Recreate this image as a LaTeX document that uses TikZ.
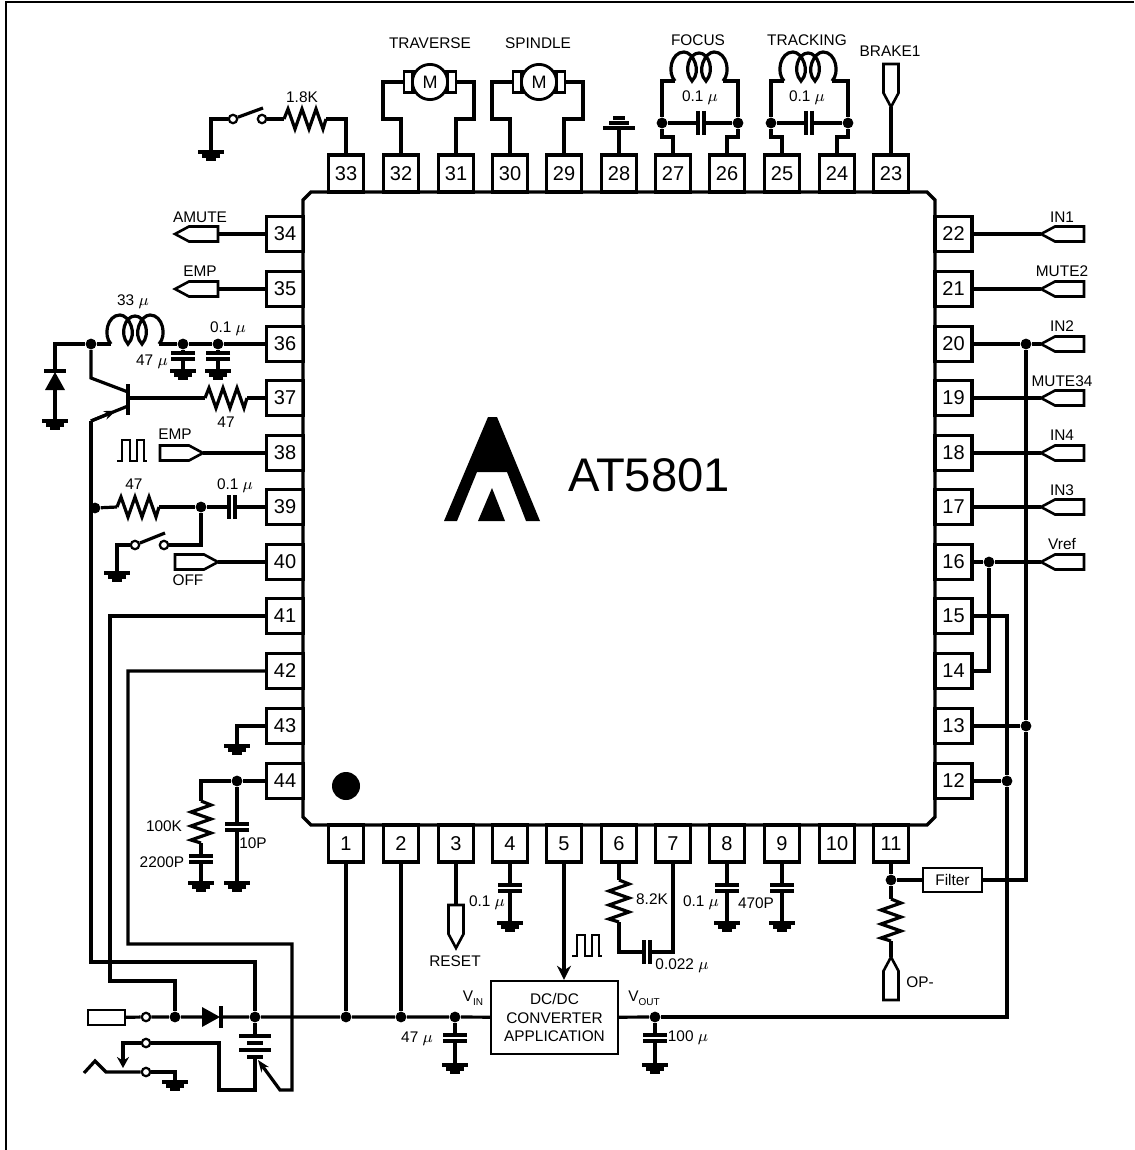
\documentclass[tikz,border=0pt]{standalone}
\usepackage{fontspec}
\setmainfont{Liberation Sans}
\usetikzlibrary{arrows.meta}

\tikzset{
  wire/.style={line width=1.6pt},
  lbl/.style={font=\fontsize{7.7}{9}\selectfont, inner sep=0pt},
  pinh/.style={draw, line width=1.6pt, minimum width=18.5pt, minimum height=17.5pt, inner sep=0pt, font=\fontsize{10}{12}\selectfont},
  pinv/.style={draw, line width=1.6pt, minimum width=17.5pt, minimum height=18.5pt, inner sep=0pt, font=\fontsize{10}{12}\selectfont},
  dot/.style={circle, fill=black, inner sep=0pt, minimum size=5.4pt},
  term/.style={circle, draw, fill=white, line width=1.1pt, inner sep=0pt, minimum size=4.2pt},
  gnd/.pic={
    \coordinate (-a) at (0,0);
    \draw[line width=1.7pt] (-13,0) -- (13,0) (-9,4) -- (9,4) (-5,7.5) -- (5,7.5);
  },
  gndup/.pic={
    \coordinate (-a) at (0,0);
    \draw[line width=1.6pt] (-16,0) -- (16,0) (-10,-5) -- (10,-5) (-6,-10) -- (6,-10);
  },
  res/.pic={
    \coordinate (-a) at (-21,0);
    \coordinate (-b) at (21,0);
    \draw[wire, line join=miter] (-21,0) -- (-17,-10) -- (-10,10) -- (-3,-10) -- (4,10) -- (11,-10) -- (18,10) -- (21,0);
  },
  cap/.pic={
    \coordinate (-a) at (-3,0);
    \coordinate (-b) at (3,0);
    \draw[wire] (-3,-12) -- (-3,12) (3,-12) -- (3,12);
  },
  coil/.pic={
    \coordinate (-a) at (-24,0);
    \coordinate (-b) at (24,0);
    \draw[wire] (-24,0) .. controls (-32,-8) and (-28,-29) .. (-15,-29) .. controls (-6,-29) and (3,-10) .. (-7,0) .. controls (-16,-10) and (-10,-28) .. (0,-28) .. controls (10,-28) and (16,-10) .. (7,0) .. controls (-3,-10) and (6,-29) .. (15,-29) .. controls (28,-29) and (32,-8) .. (24,0);
  },
  tag/.pic={
    \coordinate (-a) at (0,0);
    \coordinate (-b) at (43,0);
    \draw[line width=1.3pt] (0,0) -- (14,-7.5) -- (43,-7.5) -- (43,7.5) -- (14,7.5) -- cycle;
  },
  motor/.pic={
    \coordinate (-a) at (-26,0);
    \coordinate (-b) at (26,0);
    \draw[line width=1.4pt] (-26,-10.5) rectangle (-12,10.5) (12,-10.5) rectangle (26,10.5);
    \draw[line width=1.2pt] (-18,-10.5) -- (-18,10.5) (18,-10.5) -- (18,10.5);
    \draw[line width=1.4pt, fill=white] (0,0) circle (8.8pt);
    \node[font=\fontsize{9}{11}\selectfont, inner sep=0pt] {M};
  },
  pulse/.pic={
    \draw[line width=1pt] (0,0) -- (5,0) -- (5,-21) -- (13,-21) -- (13,0) -- (20,0) -- (20,-21) -- (27,-21) -- (27,0) -- (30,0);
  },
  diode/.pic={
    \coordinate (-a) at (-9,0);
    \coordinate (-b) at (9,0);
    \fill (-9,-10) -- (-9,10) -- (9,0) -- cycle;
    \draw[wire] (10,-11) -- (10,11);
  }
}

\begin{document}
\begin{tikzpicture}[x=0.5pt, y=-0.5pt]
\useasboundingbox (0,0) rectangle (1134,1150);
% El marco solo tiene dos lados
\draw[line width=1.2pt] (6,1150) -- (6,2) -- (1134,2);

% El chip y su logo
\draw[line width=1.7pt] (311,192) -- (927,192) -- (935,200) -- (935,817) -- (927,825) -- (311,825) -- (303,817) -- (303,200) -- cycle;
\fill (444,521) -- (488,417) -- (497,417) -- (540,521) -- (526,521) -- (507,472) -- (477,472) -- (457,521) -- cycle;
\fill (492,488) -- (505,521) -- (478,521) -- cycle;
\node[font=\fontsize{23.6}{28}\selectfont, inner sep=0pt] (chipname) at (649,475) {AT5801};
\fill (346,786) circle (7pt);

% Las patas
\foreach \n/\x in {33/346,32/401,31/456,30/510,29/564,28/619,27/673,26/727,25/782,24/837,23/891}
  \node[pinv] (p\n) at (\x,173.5) {\n};
\foreach \n/\x in {1/346,2/401,3/456,4/510,5/564,6/619,7/673,8/727,9/782,10/837,11/891}
  \node[pinv] (p\n) at (\x,843.5) {\n};
\foreach \n/\y in {34/234,35/289,36/344,37/398,38/453,39/507,40/562,41/616,42/671,43/726,44/781}
  \node[pinh] (p\n) at (285,\y) {\n};
\foreach \n/\y in {22/234,21/289,20/344,19/398,18/453,17/507,16/562,15/616,14/671,13/726,12/781}
  \node[pinh] (p\n) at (953.5,\y) {\n};

% Arriba: interruptor y motores
\pic (g33) at (211,152) {gnd};
\node[term] (s33a) at (233,119) {};
\node[term] (s33b) at (262,119) {};
\pic (r33) at (305,119) {res};
\node[lbl] (l33) at (302,97) {1.8K};
\draw[wire] (g33-a) |- (s33a);
\draw[wire] (s33a) -- (263,108);
\draw[wire] (s33b) -- (r33-a);
\draw[wire] (r33-b) -| (p33);
\pic (mt) at (430,82) {motor};
\pic (ms) at (539,82) {motor};
\node[lbl] (lmt) at (430,43) {TRAVERSE};
\node[lbl] (lms) at (538,43) {SPINDLE};
\draw[wire] (mt-a) -- (383,82) -- (383,119) -| (p32);
\draw[wire] (mt-b) -- (474,82) -- (474,119) -| (p31);
\draw[wire] (ms-a) -- (492,82) -- (492,119) -| (p30);
\draw[wire] (ms-b) -- (583,82) -- (583,119) -| (p29);
\pic (g28) at (619,128) {gndup};
\draw[wire] (p28) -- (g28-a);

% Bobinas
\pic (cf) at (699,81) {coil};
\pic (ct) at (808,81) {coil};
\node[lbl] (lcf) at (698,40) {FOCUS};
\node[lbl] (lct) at (807,40) {TRACKING};
\node[dot] (dfa) at (662,123) {};
\node[dot] (dfb) at (738,123) {};
\node[dot] (dta) at (771,123) {};
\node[dot] (dtb) at (848,123) {};
\pic (kf) at (701,123) {cap};
\pic (kt) at (809,123) {cap};
\node[lbl] (lkf) at (700,98) {0.1 $\mu$};
\node[lbl] (lkt) at (807,98) {0.1 $\mu$};
\draw[wire] (cf-a) -| (dfa);
\draw[wire] (cf-b) -| (dfb);
\draw[wire] (ct-a) -| (dta);
\draw[wire] (ct-b) -| (dtb);
\draw[wire] (dfa) -- (kf-a) (kf-b) -- (dfb);
\draw[wire] (dta) -- (kt-a) (kt-b) -- (dtb);
\draw[wire] (dfa) -- (662,137) -| (p27);
\draw[wire] (dfb) -- (738,137) -| (p26);
\draw[wire] (dta) -- (771,137) -| (p25);
\draw[wire] (dtb) -- (848,137) -| (p24);
\pic[rotate=90] (t23) at (891,107) {tag};
\node[lbl] (l23) at (890,51) {BRAKE1};
\draw[wire] (p23) -- (t23-a);

% Derecha
\pic (t22) at (1041,234) {tag};
\pic (t21) at (1041,289) {tag};
\pic (t20) at (1041,344) {tag};
\pic (t19) at (1041,398) {tag};
\pic (t18) at (1041,453) {tag};
\pic (t17) at (1041,507) {tag};
\pic (t16) at (1041,562) {tag};
\node[lbl] (l22) at (1062,217) {IN1};
\node[lbl] (l21) at (1062,271) {MUTE2};
\node[lbl] (l20) at (1062,326) {IN2};
\node[lbl] (l19) at (1062,381) {MUTE34};
\node[lbl] (l18) at (1062,435) {IN4};
\node[lbl] (l17) at (1062,490) {IN3};
\node[lbl] (l16) at (1062,544) {Vref};
\node[dot] (d20) at (1026,344) {};
\node[dot] (d16) at (989,562) {};
\node[dot] (d13) at (1026,726) {};
\node[dot] (d12) at (1007,781) {};
\draw[wire] (p22) -- (t22-a);
\draw[wire] (p21) -- (t21-a);
\draw[wire] (p20) -- (d20) -- (t20-a);
\draw[wire] (p19) -- (t19-a);
\draw[wire] (p18) -- (t18-a);
\draw[wire] (p17) -- (t17-a);
\draw[wire] (p16) -- (d16) -- (t16-a);
\draw[wire] (d16) |- (p14);
\draw[wire] (p15) -| (d12);
\draw[wire] (p13) -- (d13);
\draw[wire] (p12) -- (d12);
\draw[wire] (d20) -- (d13);
\node[draw, line width=1.2pt, lbl, minimum width=29.5pt, minimum height=12pt] (filt) at (952.5,880) {Filter};
\node[dot] (d11) at (891,880) {};
\pic[rotate=-90] (r11) at (891,920) {res};
\pic[rotate=-90] (t11) at (891,957) {tag};
\node[lbl] (l11) at (920,982) {OP-};
\draw[wire] (p11) -- (d11) -- (r11-a);
\draw[wire] (r11-b) -- (t11-a);
\draw[wire] (d11) -- (filt);
\draw[wire] (filt) -| (d13);

% Izquierda
\pic (t34) at (175,234) {tag};
\pic (t35) at (175,289) {tag};
\node[lbl] (l34) at (200,217) {AMUTE};
\node[lbl] (l35) at (200,271) {EMP};
\draw[wire] (p34) -- (t34-b);
\draw[wire] (p35) -- (t35-b);
\pic (c36) at (135,344) {coil};
\node[lbl] (lc36) at (133,302) {33 $\mu$};
\node[dot] (d36) at (91,344) {};
\node[dot] (d36a) at (183,344) {};
\node[dot] (d36b) at (218,344) {};
\pic[rotate=-90] (k36a) at (183,356) {cap};
\pic[rotate=-90] (k36b) at (218,356) {cap};
\pic (g36a) at (183,371) {gnd};
\pic (g36b) at (218,371) {gnd};
\node[lbl] (lk36a) at (152,362) {47 $\mu$};
\node[lbl] (lk36b) at (228,329) {0.1 $\mu$};
\draw[wire] (d36) -- (c36-a);
\draw[wire] (c36-b) -- (d36a) -- (d36b) -- (p36);
\draw[wire] (d36a) -- (k36a-a) (k36a-b) -- (g36a-a);
\draw[wire] (d36b) -- (k36b-a) (k36b-b) -- (g36b-a);
\pic[rotate=90] (dz) at (55,381) {diode};
\pic (gz) at (55,421) {gnd};
\draw[wire] (d36) -| (dz-b);
\draw[wire] (dz-a) -- (gz-a);

% El transistor
\coordinate (qb) at (128,398);
\coordinate (qc) at (128,392);
\coordinate (qe) at (128,406);
\coordinate (qel) at (91,421);
\draw[line width=1.9pt] (128,384) -- (128,415);
\pic (r37) at (226,398) {res};
\node[lbl] (l37) at (226,422) {47};
\draw[wire] (qb) -- (r37-a);
\draw[wire] (r37-b) -- (p37);
\draw[wire] (d36) -- (91,378) -- (qc);
\draw[wire] (qel) -- (qe);
\draw[wire, -{Stealth[length=6pt, width=4.5pt]}] (qel) -- (116,410.7);

\pic[rotate=180] (t38) at (203,453) {tag};
\node[lbl] (l38) at (175,434) {EMP};
\pic (p38wave) at (117,461) {pulse};
\draw[wire] (t38-a) -- (p38);
\node[dot] (d39a) at (95,508) {};
\pic (r39) at (138,507) {res};
\node[lbl] (l39) at (134,484) {47};
\node[dot] (d39b) at (201,507) {};
\pic (k39) at (232,507) {cap};
\node[lbl] (lk39) at (235,486) {0.1 $\mu$};
\draw[wire] (d39a) -- (r39-a);
\draw[wire] (r39-b) -- (d39b) -- (k39-a);
\draw[wire] (k39-b) -- (p39);
\node[term] (s39a) at (135,545) {};
\node[term] (s39b) at (164,545) {};
\pic (g39) at (117,573) {gnd};
\draw[wire] (d39b) |- (s39b);
\draw[wire] (s39a) -- (165,533);
\draw[wire] (s39a) -| (g39-a);
\pic[rotate=180] (t40) at (218,562) {tag};
\node[lbl] (l40) at (188,580) {OFF};
\draw[wire] (t40-a) -- (p40);
\pic (g43) at (237,746) {gnd};
\draw[wire] (p43) -| (g43-a);
\node[dot] (d44) at (237,781) {};
\pic[rotate=-90] (r44) at (201,822) {res};
\pic[rotate=-90] (k44a) at (201,859) {cap};
\pic (g44a) at (201,883) {gnd};
\pic[rotate=-90] (k44b) at (237,827) {cap};
\pic (g44b) at (237,883) {gnd};
\node[lbl] (lr44) at (164,826) {100K};
\node[lbl] (lk44a) at (162,862) {2200P};
\node[lbl] (lk44b) at (253,843) {10P};
\draw[wire] (p44) -- (d44);
\draw[wire] (d44) -| (r44-a);
\draw[wire] (r44-b) -- (k44a-a) (k44a-b) -- (g44a-a);
\draw[wire] (d44) -- (k44b-a) (k44b-b) -- (g44b-a);

% Abajo
\pic[rotate=90] (t3) at (456,948) {tag};
\node[lbl] (l3) at (455,961) {RESET};
\draw[wire] (p3) -- (t3-b);
\pic[rotate=-90] (k4) at (510,888) {cap};
\pic (g4) at (510,923) {gnd};
\node[lbl] (l4) at (487,903) {0.1 $\mu$};
\draw[wire] (p4) -- (k4-a) (k4-b) -- (g4-a);
\pic[rotate=-90] (r6) at (619,901) {res};
\node[lbl] (l6) at (652,899) {8.2K};
\pic (k6) at (647,952) {cap};
\node[lbl] (lk6) at (682,966) {0.022 $\mu$};
\draw[wire] (p6) -- (r6-a);
\draw[wire] (r6-b) |- (k6-a);
\draw[wire] (k6-b) -| (p7);
\pic[rotate=-90] (k8) at (727,888) {cap};
\pic (g8) at (727,923) {gnd};
\node[lbl] (l8) at (701,903) {0.1 $\mu$};
\draw[wire] (p8) -- (k8-a) (k8-b) -- (g8-a);
\pic[rotate=-90] (k9) at (782,888) {cap};
\pic (g9) at (782,923) {gnd};
\node[lbl] (l9) at (756,903) {470P};
\draw[wire] (p9) -- (k9-a) (k9-b) -- (g9-a);

% El convertidor
\node[draw, line width=1.2pt, inner sep=0pt, minimum width=63.5pt, minimum height=36.5pt, font=\fontsize{7.7}{9}\selectfont, align=center] (dc) at (554.5,1017.5) {DC/DC\\[0.2pt]CONVERTER\\[0.2pt]APPLICATION};
\pic (wave5) at (572,956) {pulse};
\draw[wire, -{Stealth[length=7pt, width=7pt]}] (p5) -- (p5 |- dc.north);
\node[lbl] (lvin) at (473,998) {V\raisebox{-2pt}{\fontsize{5}{6}\selectfont IN}};
\node[lbl] (lvout) at (644,998) {V\raisebox{-2pt}{\fontsize{5}{6}\selectfont OUT}};
\node[dot] (dvin) at (455,1017) {};
\node[dot] (dvout) at (655,1017) {};
\pic[rotate=-90] (kin) at (455,1038) {cap};
\pic[rotate=-90] (kout) at (655,1038) {cap};
\pic (gin) at (455,1065) {gnd};
\pic (gout) at (655,1065) {gnd};
\node[lbl] (lkin) at (417,1039) {47 $\mu$};
\node[lbl] (lkout) at (688,1038) {100 $\mu$};
\draw[wire] (dvin) -- (kin-a) (kin-b) -- (gin-a);
\draw[wire] (dvout) -- (kout-a) (kout-b) -- (gout-a);

% La linea de alimentacion
\node[draw, line width=1.2pt, minimum width=18.5pt, minimum height=7.5pt, inner sep=0pt] (plug) at (106.5,1017.5) {};
\node[term] (tplug) at (146,1017) {};
\node[dot] (dsw) at (175,1017) {};
\pic (dio) at (211,1017) {diode};
\node[dot] (dbat) at (255,1017) {};
\node[dot] (d1) at (346,1017) {};
\node[dot] (d2) at (401,1017) {};
\draw[wire] (plug) -- (tplug) -- (dsw) -- (dio-a);
\draw[wire] (dio-b) -- (dbat) -- (d1) -- (d2) -- (dvin) -- (dc);
\draw[wire] (dc) -- (dvout);
\draw[wire] (dvout) -| (d12);
\draw[wire] (p1) -- (d1);
\draw[wire] (p2) -- (d2);
\draw[wire] (p41) -- (110,616) |- (175,981) -- (dsw);
\draw[wire] (qel) -- (91,962) -| (dbat);
\draw[wire, -{Stealth[length=6pt, width=4.5pt]}] (p42) -- (128,671) |- (292,944) -- (292,1090) -- (280,1090) -- (258,1060);

% La pila y el jack
\coordinate (bata) at (255,1036);
\coordinate (batb) at (255,1057);
\draw[wire] (dbat) -- (bata);
\draw[wire] (239,1036) -- (271,1036) (247,1043) -- (263,1043) (239,1050) -- (271,1050) (247,1057) -- (263,1057);
\node[term] (tj1) at (146,1043) {};
\node[term] (tj2) at (146,1072) {};
\pic (gj) at (175,1082) {gnd};
\draw[wire] (batb) -- (255,1090) -- (219,1090) -- (219,1043) -- (tj1);
\draw[wire, -{Stealth[length=5.5pt, width=6pt]}] (tj1) -- (123,1043) -- (123,1068);
\draw[wire] (84,1073) -- (95,1061) -- (106,1072) -- (tj2);
\draw[wire] (tj2) -| (gj-a);
\end{tikzpicture}
\end{document}
